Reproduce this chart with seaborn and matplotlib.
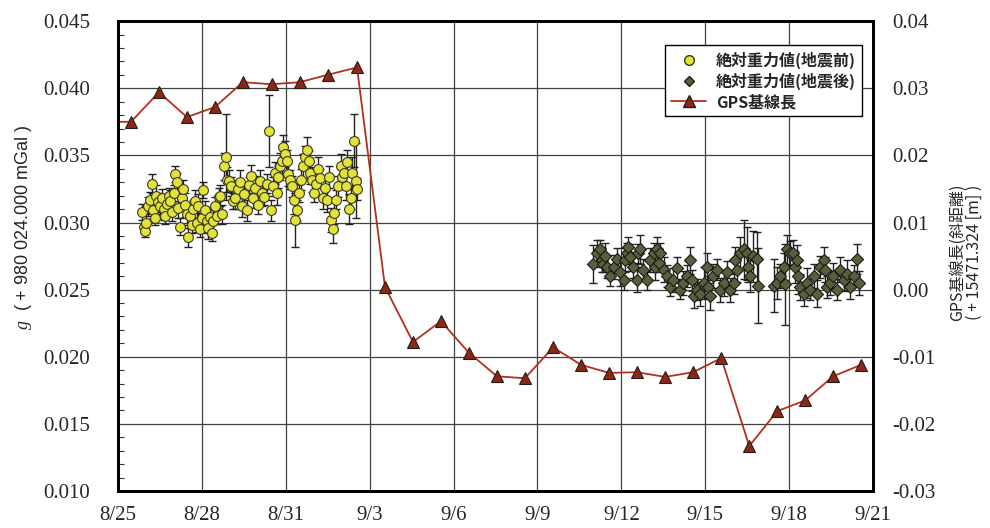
import pandas as pd
import seaborn as sns
import matplotlib.pyplot as plt
from matplotlib.lines import Line2D
from matplotlib.ticker import MultipleLocator, FormatStrFormatter

# days counted from 8/25 00:00
pre_day = [0.88, 0.92, 0.97, 1.02, 1.08, 1.15, 1.22, 1.26, 1.32, 1.38,
           1.45, 1.52, 1.58, 1.64, 1.70, 1.76, 1.82, 1.88, 1.94, 2.00,
           2.06, 2.10, 2.16, 2.22, 2.28, 2.34, 2.40, 2.46, 2.52, 2.58,
           2.64, 2.70, 2.76, 2.82, 2.88, 2.94, 3.00, 3.06, 3.12, 3.18,
           3.24, 3.30, 3.36, 3.42, 3.48, 3.54, 3.60, 3.66, 3.72, 3.78,
           3.85, 3.90, 3.96, 4.04, 4.12, 4.20, 4.28, 4.36, 4.44, 4.52,
           4.60, 4.68, 4.76, 4.84, 4.92, 5.00, 5.08, 5.16, 5.24, 5.32,
           5.40, 5.48, 5.56, 5.62, 5.68, 5.74, 5.80, 5.86, 5.92, 5.98,
           6.04, 6.10, 6.16, 6.22, 6.28, 6.34, 6.40, 6.46, 6.54, 6.62,
           6.70, 6.76, 6.82, 6.88, 6.94, 7.00, 7.08, 7.16, 7.24, 7.32,
           7.40, 7.48, 7.56, 7.62, 7.68, 7.74, 7.80, 7.88, 7.96, 8.02,
           8.08, 8.14, 8.20, 8.26, 8.32, 8.38, 8.44, 8.50, 8.55]
pre_g = [0.0308, 0.0297, 0.0294, 0.0300, 0.0312, 0.0317, 0.0329, 0.0309, 0.0303, 0.0320,
         0.0315, 0.0312, 0.0318, 0.0310, 0.0305, 0.0314, 0.0320, 0.0316, 0.0308, 0.0322,
         0.0336, 0.0330, 0.0311, 0.0297, 0.0318, 0.0325, 0.0313, 0.0306, 0.0289, 0.0305,
         0.0298, 0.0310, 0.0316, 0.0300, 0.0312, 0.0295, 0.0303, 0.0324, 0.0309, 0.0301,
         0.0296, 0.0304, 0.0292, 0.0301, 0.0312, 0.0305, 0.0319, 0.0320, 0.0306, 0.0342,
         0.0349, 0.0332, 0.0331, 0.0327, 0.0316, 0.0318, 0.0325, 0.0330, 0.0312, 0.0321,
         0.0309, 0.0328, 0.0335, 0.0318, 0.0326, 0.0313, 0.0331, 0.0322, 0.0319, 0.0329,
         0.0368, 0.0309, 0.0327, 0.0337, 0.0322, 0.0334, 0.0342, 0.0346, 0.0356, 0.0351,
         0.0346, 0.0336, 0.0332, 0.0327, 0.0317, 0.0302, 0.0309, 0.0322, 0.0332, 0.0342,
         0.0349, 0.0354, 0.0346, 0.0337, 0.0332, 0.0322, 0.0329, 0.0340, 0.0333, 0.0318,
         0.0326, 0.0317, 0.0334, 0.0302, 0.0295, 0.0307, 0.0317, 0.0327, 0.0342, 0.0334,
         0.0337, 0.0327, 0.0345, 0.0310, 0.0318, 0.0337, 0.0361, 0.0331, 0.0325]
pre_err = [0.0006, 0.0005, 0.0005, 0.0006, 0.0007, 0.0006, 0.0007, 0.0006, 0.0005, 0.0008,
           0.0007, 0.0006, 0.0007, 0.0008, 0.0006, 0.0007, 0.0006, 0.0008, 0.0007, 0.0006,
           0.0006, 0.0007, 0.0008, 0.0006, 0.0006, 0.0007, 0.0009, 0.0008, 0.0007, 0.0009,
           0.0006, 0.0007, 0.0008, 0.0007, 0.0009, 0.0006, 0.0008, 0.0006, 0.0007, 0.0009,
           0.0008, 0.0007, 0.0006, 0.0008, 0.0007, 0.0006, 0.0007, 0.0008, 0.0007, 0.0010,
           0.0032, 0.0009, 0.0008, 0.0007, 0.0006, 0.0008, 0.0007, 0.0009, 0.0008, 0.0007,
           0.0008, 0.0006, 0.0008, 0.0007, 0.0009, 0.0007, 0.0008, 0.0010, 0.0006, 0.0007,
           0.0027, 0.0008, 0.0007, 0.0008, 0.0009, 0.0008, 0.0010, 0.0012, 0.0009, 0.0010,
           0.0008, 0.0009, 0.0007, 0.0008, 0.0011, 0.0020, 0.0008, 0.0007, 0.0008, 0.0009,
           0.0008, 0.0010, 0.0007, 0.0008, 0.0009, 0.0007, 0.0008, 0.0009, 0.0007, 0.0008,
           0.0007, 0.0009, 0.0008, 0.0009, 0.0010, 0.0008, 0.0007, 0.0008, 0.0009, 0.0007,
           0.0008, 0.0010, 0.0009, 0.0011, 0.0008, 0.0012, 0.0020, 0.0028, 0.0008]

post_day = [17.00, 17.12, 17.24, 17.30, 17.36, 17.42, 17.48, 17.60, 17.72, 17.84,
            17.96, 18.08, 18.13, 18.19, 18.25, 18.31, 18.43, 18.55, 18.61, 18.67,
            18.79, 18.91, 19.03, 19.15, 19.21, 19.27, 19.33, 19.39, 19.51, 19.62,
            19.74, 19.86, 19.98, 20.10, 20.22, 20.34, 20.46, 20.52, 20.58, 20.70,
            20.82, 20.94, 21.05, 21.11, 21.17, 21.29, 21.41, 21.53, 21.65, 21.77,
            21.89, 22.01, 22.07, 22.13, 22.25, 22.37, 22.49, 22.54, 22.60, 22.72,
            22.84, 22.90, 23.44, 23.56, 23.68, 23.80, 23.86, 23.92, 24.04, 24.15,
            24.21, 24.27, 24.33, 24.39, 24.51, 24.63, 24.75, 24.87, 24.99, 25.11,
            25.23, 25.29, 25.35, 25.47, 25.58, 25.70, 25.82, 25.94, 26.06, 26.18,
            26.30, 26.42, 26.48]
post_g = [0.0269, 0.0277, 0.0280, 0.0272, 0.0269, 0.0275, 0.0267, 0.0260, 0.0267, 0.0273,
          0.0263, 0.0257, 0.0272, 0.0277, 0.0282, 0.0274, 0.0267, 0.0257, 0.0277, 0.0280,
          0.0265, 0.0257, 0.0272, 0.0277, 0.0267, 0.0280, 0.0270, 0.0277, 0.0265, 0.0260,
          0.0252, 0.0257, 0.0266, 0.0250, 0.0255, 0.0260, 0.0272, 0.0257, 0.0245, 0.0250,
          0.0247, 0.0255, 0.0267, 0.0252, 0.0245, 0.0260, 0.0265, 0.0250, 0.0255, 0.0263,
          0.0250, 0.0255, 0.0272, 0.0265, 0.0277, 0.0280, 0.0277, 0.0267, 0.0260, 0.0275,
          0.0273, 0.0253, 0.0253, 0.0255, 0.0260, 0.0267, 0.0254, 0.0280, 0.0277, 0.0277,
          0.0267, 0.0272, 0.0260, 0.0252, 0.0247, 0.0255, 0.0250, 0.0260, 0.0247, 0.0267,
          0.0272, 0.0265, 0.0252, 0.0255, 0.0260, 0.0250, 0.0265, 0.0257, 0.0262, 0.0252,
          0.0260, 0.0273, 0.0255]
post_err = [0.0014, 0.0010, 0.0007, 0.0009, 0.0006, 0.0010, 0.0008, 0.0007, 0.0009, 0.0008,
            0.0010, 0.0007, 0.0009, 0.0008, 0.0007, 0.0010, 0.0008, 0.0009, 0.0007, 0.0011,
            0.0008, 0.0007, 0.0009, 0.0008, 0.0010, 0.0009, 0.0007, 0.0008, 0.0009, 0.0008,
            0.0007, 0.0009, 0.0008, 0.0007, 0.0009, 0.0008, 0.0010, 0.0008, 0.0009, 0.0008,
            0.0009, 0.0012, 0.0010, 0.0008, 0.0010, 0.0009, 0.0008, 0.0009, 0.0010, 0.0008,
            0.0009, 0.0008, 0.0010, 0.0009, 0.0012, 0.0022, 0.0020, 0.0011, 0.0012, 0.0019,
            0.0020, 0.0028, 0.0020, 0.0012, 0.0009, 0.0010, 0.0030, 0.0011, 0.0009, 0.0010,
            0.0012, 0.0011, 0.0013, 0.0010, 0.0009, 0.0011, 0.0008, 0.0009, 0.0010, 0.0008,
            0.0010, 0.0009, 0.0008, 0.0009, 0.0010, 0.0008, 0.0009, 0.0008, 0.0010, 0.0009,
            0.0008, 0.0011, 0.0009]

gps_day = [-0.50, 0.47, 1.47, 2.47, 3.47, 4.47, 5.50, 6.50, 7.50, 8.55,
           9.55, 10.55, 11.55, 12.55, 13.55, 14.55, 15.56, 16.56, 17.56, 18.56,
           19.56, 20.56, 21.57, 22.57, 23.57, 24.57, 25.57, 26.57]
gps_len = [0.0250, 0.0250, 0.0294, 0.0257, 0.0272, 0.0309, 0.0306, 0.0309, 0.0320, 0.0331,
           0.0004, -0.0078, -0.0047, -0.0094, -0.0129, -0.0132, -0.0086, -0.0112, -0.0124, -0.0123,
           -0.0130, -0.0123, -0.0102, -0.0233, -0.0181, -0.0165, -0.0129, -0.0112]

tick_days = [0, 3, 6, 9, 12, 15, 18, 21, 24, 27]
tick_labels = ["8/25", "8/28", "8/31", "9/3", "9/6", "9/9", "9/12", "9/15", "9/18", "9/21"]

legend_labels = ["絶対重力値(地震前)", "絶対重力値(地震後)", "GPS基線長"]

sns.set_style("white")
cjk = ["Noto Sans CJK JP", "DejaVu Sans"]
plt.rcParams["mathtext.fontset"] = "custom"
plt.rcParams["mathtext.it"] = "Liberation Serif:italic"

fig = plt.figure(figsize=(9.9, 5.28), dpi=100)
ax = fig.add_axes([0.119, 0.070, 0.763, 0.890])
ax2 = ax.twinx()

# gravity, before and after the quake
ax.errorbar(pre_day, pre_g, yerr=pre_err, fmt="none", ecolor="#222222",
            elinewidth=1.0, capsize=3, capthick=1.0, zorder=2)
sns.scatterplot(x=pre_day, y=pre_g, ax=ax, marker="o", s=50, color="#e2e23a",
                edgecolor="#3a3a20", linewidth=0.8, zorder=3)
ax.errorbar(post_day, post_g, yerr=post_err, fmt="none", ecolor="#222222",
            elinewidth=1.0, capsize=3, capthick=1.0, zorder=2)
sns.scatterplot(x=post_day, y=post_g, ax=ax, marker="D", s=38, color="#56603e",
                edgecolor="#1c1c14", linewidth=0.8, zorder=3)

# GPS baseline
sns.lineplot(x=gps_day, y=gps_len, ax=ax2, color="#b3301c", linewidth=1.3,
             marker="^", markersize=9, markerfacecolor="#8a2818",
             markeredgecolor="#2a1a14", markeredgewidth=0.8)

ax.set_xlim(0, 27)
ax.set_ylim(0.010, 0.045)
ax2.set_ylim(-0.03, 0.04)

ax.set_xticks(tick_days)
ax.set_xticklabels(tick_labels)
ax.xaxis.set_minor_locator(MultipleLocator(1))
ax.yaxis.set_major_locator(MultipleLocator(0.005))
ax.yaxis.set_minor_locator(MultipleLocator(0.001))
ax.yaxis.set_major_formatter(FormatStrFormatter("%.3f"))
ax2.yaxis.set_major_locator(MultipleLocator(0.01))
ax2.yaxis.set_major_formatter(FormatStrFormatter("%.2f"))

ax.grid(True, which="major", color="#404040", linewidth=0.9)
ax.set_axisbelow(True)
ax.tick_params(which="major", length=0)
ax.tick_params(axis="y", which="major", pad=20)
ax.tick_params(axis="x", which="major", pad=11)
ax.tick_params(which="minor", direction="in", length=4, width=0.8, color="#333333")
ax2.tick_params(which="major", length=0, pad=14)

for t in ax.get_xticklabels() + ax.get_yticklabels() + ax2.get_yticklabels():
    t.set_fontfamily("Liberation Serif")
    t.set_fontsize(15)

for a in (ax, ax2):
    for sp in a.spines.values():
        sp.set_linewidth(2.0)
        sp.set_color("black")

ax.set_xlabel("")
ax.set_ylabel("")
ax2.set_ylabel("")

fig.text(0.024, 0.570, "$g$  ( + 980 024.000 mGal )", rotation=90,
         ha="center", va="center", fontsize=13, family="Liberation Sans")
fig.text(0.976, 0.523, "GPS基線長(斜距離)\n( + 15471.324 [m] )", rotation=90,
         ha="center", va="center", multialignment="center", fontsize=11.5,
         family=cjk, linespacing=1.0)

handles = [
    Line2D([], [], linestyle="none", marker="o", markersize=7,
           markerfacecolor="#e2e23a", markeredgecolor="#3a3a20"),
    Line2D([], [], linestyle="none", marker="D", markersize=5.5,
           markerfacecolor="#56603e", markeredgecolor="#1c1c14"),
    Line2D([], [], color="#b3301c", linewidth=1.3, marker="^", markersize=8,
           markerfacecolor="#8a2818", markeredgecolor="#2a1a14"),
]
leg = ax2.legend(handles, legend_labels, loc="upper right",
                 bbox_to_anchor=(0.996, 0.966), frameon=True, fancybox=False,
                 edgecolor="black", framealpha=1, handlelength=2.2,
                 borderpad=0.4, labelspacing=0.25, handletextpad=0.6,
                 prop={"family": cjk, "size": 11.5, "weight": "bold"})
leg.get_frame().set_linewidth(1.0)

fig.savefig("out.png", dpi=100)
